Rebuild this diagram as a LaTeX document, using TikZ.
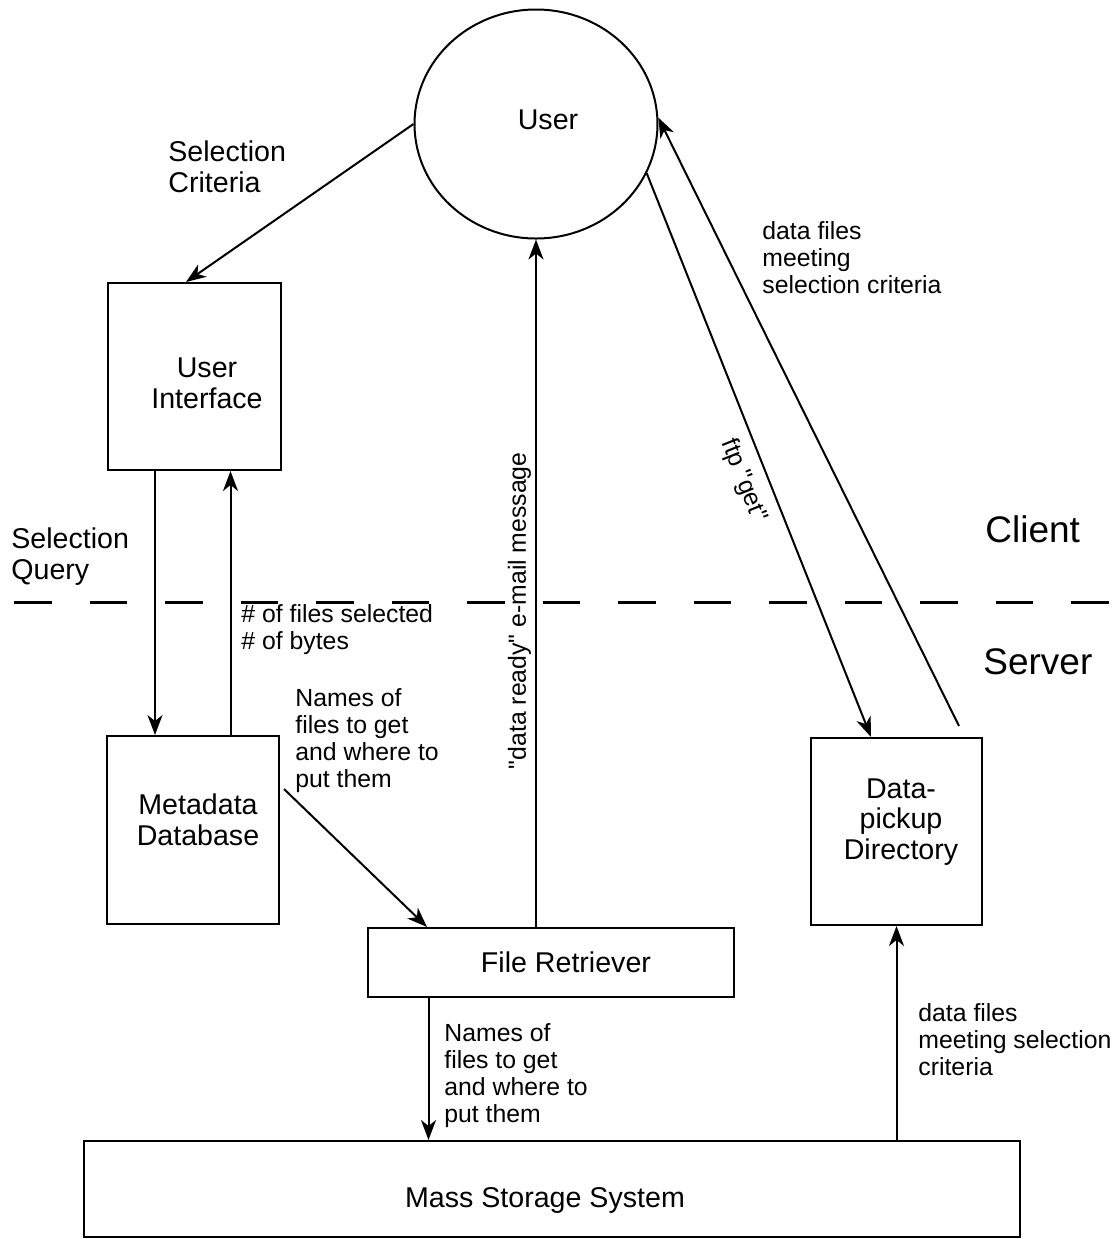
\documentclass[tikz,border=0pt]{standalone}
\usepackage{fontspec}
\setmainfont{Liberation Sans}
\usetikzlibrary{shapes.geometric,arrows.meta}

\begin{document}
\begin{tikzpicture}[x=0.5pt,y=-0.5pt,
	box/.style={
		% The shape:
		rectangle,
		% The border:
		draw=black,
		line width=1pt,
		inner sep=0pt
		},
	person/.style={
		ellipse,
		draw=black,
		line width=1pt,
		inner sep=0pt
		},
	% text inside the boxes
	boxtext/.style={
		inner sep=0pt,
		align=center,
		font=\fontsize{14.3}{15.3}\selectfont
		},
	% text next to the flows
	flowtext/.style={
		inner sep=0pt,
		align=left,
		anchor=west,
		font=\fontsize{12.4}{13.5}\selectfont
		},
	bigtext/.style={flowtext, font=\fontsize{14.3}{15.5}\selectfont},
	pathtext/.style={inner sep=0pt, font=\fontsize{12.4}{13.5}\selectfont},
	sidetext/.style={flowtext, font=\fontsize{18.5}{20}\selectfont},
	flow/.style={-{Stealth[length=10pt,width=7.5pt,inset=3pt]}, line width=1pt}
	]
	\useasboundingbox (0,0) rectangle (1120,1239);

	\node (user) [person, minimum width=121.5pt, minimum height=114.5pt,
		label={[boxtext,xshift=6pt,yshift=2pt]center:User}] at (536,124) {};
	\node (ui) [box, minimum width=86.5pt, minimum height=93.5pt,
		label={[boxtext,xshift=6.25pt,yshift=-3.25pt]center:User\\Interface}] at (194.5,376.5) {};
	\node (md) [box, minimum width=86pt, minimum height=94pt,
		label={[boxtext,xshift=2.5pt,yshift=5pt]center:Metadata\\Database}] at (193,830) {};
	\node (dp) [box, minimum width=85.5pt, minimum height=93.5pt,
		label={[boxtext,xshift=2.25pt,yshift=4.75pt]center:Data-\\pickup\\Directory}] at (896.5,831.5) {};
	\node (fr) [box, minimum width=183pt, minimum height=34.5pt,
		label={[boxtext,xshift=7.5pt]center:File Retriever}] at (551,962.5) {};
	\node (mss) [box, minimum width=468pt, minimum height=48pt,
		label={[boxtext,xshift=-3.5pt,yshift=-5.5pt]center:Mass Storage System}] at (552,1189) {};

	% client / server split
	\coordinate (splitwest) at (14,602);
	\coordinate (spliteast) at (1120,602);
	\draw[line width=1.5pt, dash pattern=on 18.75pt off 19pt] (splitwest) -- (spliteast);
	\node (client) [sidetext] at (985,529) {Client};
	\node (server) [sidetext] at (983,662) {Server};

	\draw[flow] (user.west) -- ([xshift=-4.25pt]ui.north); % selection criteria
	\draw[flow] ([xshift=-19.75pt]ui.south) -- ([xshift=-19.75pt]ui.south |- md.north);
	\draw[flow] ([xshift=18.75pt]md.north) -- ([xshift=18.75pt]md.north |- ui.south);
	\draw[flow] ([xshift=2pt,yshift=-27pt]md.north east) -- ([xshift=-62pt]fr.north);
	\draw[flow] ([xshift=-7.5pt]fr.north) -- (user.south)
		node[pos=0.46, sloped, above=2pt, pathtext] {\textquotedbl data ready\textquotedbl\ e-mail message};
	\draw[flow] (user.-24.5) -- ([xshift=-12.75pt]dp.north)
		node[pos=0.53, sloped, below=5.5pt, pathtext] {ftp \textquotedbl get\textquotedbl};
	\draw[flow] ([xshift=-12pt,yshift=5.5pt]dp.north east) -- (user.3);
	\draw[flow] ([xshift=-61.25pt]fr.south) -- ([xshift=-61.25pt]fr.south |- mss.north);
	\draw[flow] (mss.north -| dp.south) -- (dp.south);

	\node (critlbl) [bigtext] at (168,167) {Selection\\Criteria};
	\node (querylbl) [bigtext] at (11,557) {Selection\\Query};
	\node (countlbl) [flowtext] at (241,630) {\# of files selected\\\# of bytes};
	\node (nameslbl) [flowtext] at (295,741) {Names of\\files to get\\and where to\\put them};
	\node (fetchlbl) [flowtext] at (444,1076) {Names of\\files to get\\and where to\\put them};
	\node (retlbl) [flowtext] at (762,258) {data files\\meeting\\selection criteria};
	\node (deliverlbl) [flowtext] at (918,1040) {data files\\meeting selection\\criteria};

\end{tikzpicture}
\end{document}
